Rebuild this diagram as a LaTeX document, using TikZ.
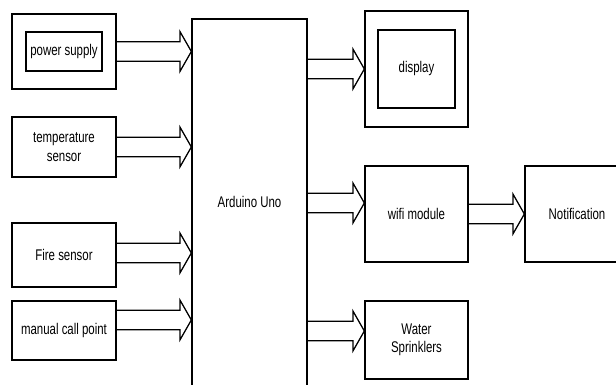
\documentclass[tikz,border=0pt]{standalone}
\usepackage{fontspec}
\setmainfont{Liberation Sans}[FakeStretch=0.74]
\usepackage{tikz}
\usetikzlibrary{calc, positioning}

% hollow double-line arrow from a tail point to a tip point (same height)
\newcommand{\fatarrow}[2]{%
    \draw[fatline] let \p1 = #1, \p2 = #2 in
        (\x1,\y1+7pt) -- (\x2-8pt,\y1+7pt) -- (\x2-8pt,\y1+14pt) -- (\x2,\y1)
        -- (\x2-8pt,\y1-14pt) -- (\x2-8pt,\y1-7pt) -- (\x1,\y1-7pt);}

\begin{document}
\begin{tikzpicture}[x=0.025cm, y=-0.025cm,
    block/.style={draw, line width=0.9pt, align=center, inner sep=0pt,
        font=\fontsize{11}{13}\selectfont},
    fatline/.style={line width=0.9pt}]
    % Khung ảnh
    \useasboundingbox (0,0) rectangle (616,385);
    \clip (0,0) rectangle (616,385);

    % Khối đầu vào bên trái
    \node[block, minimum width=2.6cm, minimum height=1.875cm] (supplyframe) at (64,51.5) {};
    \node[block, minimum width=1.9cm, minimum height=0.975cm] (supply) at (64,51.5) {power supply};
    \node[block, minimum width=2.6cm, minimum height=1.5cm] (temp) at (64,147) {temperature\\sensor};
    \node[block, minimum width=2.6cm, minimum height=1.6cm] (fire) at (64,255) {Fire sensor};
    \node[block, minimum width=2.6cm, minimum height=1.475cm] (callpoint) at (64,330.5) {manual call point};

    % Khối xử lý trung tâm
    \node[block, minimum width=2.875cm, minimum height=9.75cm,
        label={[font=\fontsize{11}{13}\selectfont, yshift=0.3cm]center:Arduino Uno}] (arduino) at (249.5,214) {};

    % Khối đầu ra bên phải
    \node[block, minimum width=2.575cm, minimum height=2.9cm] (displayframe) at (416.5,69) {};
    \node[block, minimum width=1.925cm, minimum height=1.95cm] (display) at (416.5,69) {display};
    \node[block, minimum width=2.575cm, minimum height=2.4cm] (wifi) at (416.5,214) {wifi module};
    \node[block, minimum width=2.6cm, minimum height=2.4cm] (notify) at (577,214) {Notification};
    \node[block, minimum width=2.575cm, minimum height=1.95cm] (sprinkler) at (416.5,340) {Water\\Sprinklers};

    % Điểm đặt mũi tên lệch tâm
    \coordinate (firetail) at ($(fire.east)+(0,-2)$);
    \coordinate (calltail) at ($(callpoint.east)+(0,-10.5)$);
    \coordinate (wifitip) at ($(wifi.west)+(0,-11)$);
    \coordinate (sprinklertip) at ($(sprinkler.west)+(0,-9)$);

    % Mũi tên vào Arduino
    \fatarrow{(supplyframe.east)}{(supplyframe.east -| arduino.west)}
    \fatarrow{(temp.east)}{(temp.east -| arduino.west)}
    \fatarrow{(firetail)}{(firetail -| arduino.west)}
    \fatarrow{(calltail)}{(calltail -| arduino.west)}

    % Mũi tên ra khỏi Arduino
    \fatarrow{(displayframe.west -| arduino.east)}{(displayframe.west)}
    \fatarrow{(wifitip -| arduino.east)}{(wifitip)}
    \fatarrow{(wifi.east)}{(notify.west)}
    \fatarrow{(sprinklertip -| arduino.east)}{(sprinklertip)}
\end{tikzpicture}
\end{document}
